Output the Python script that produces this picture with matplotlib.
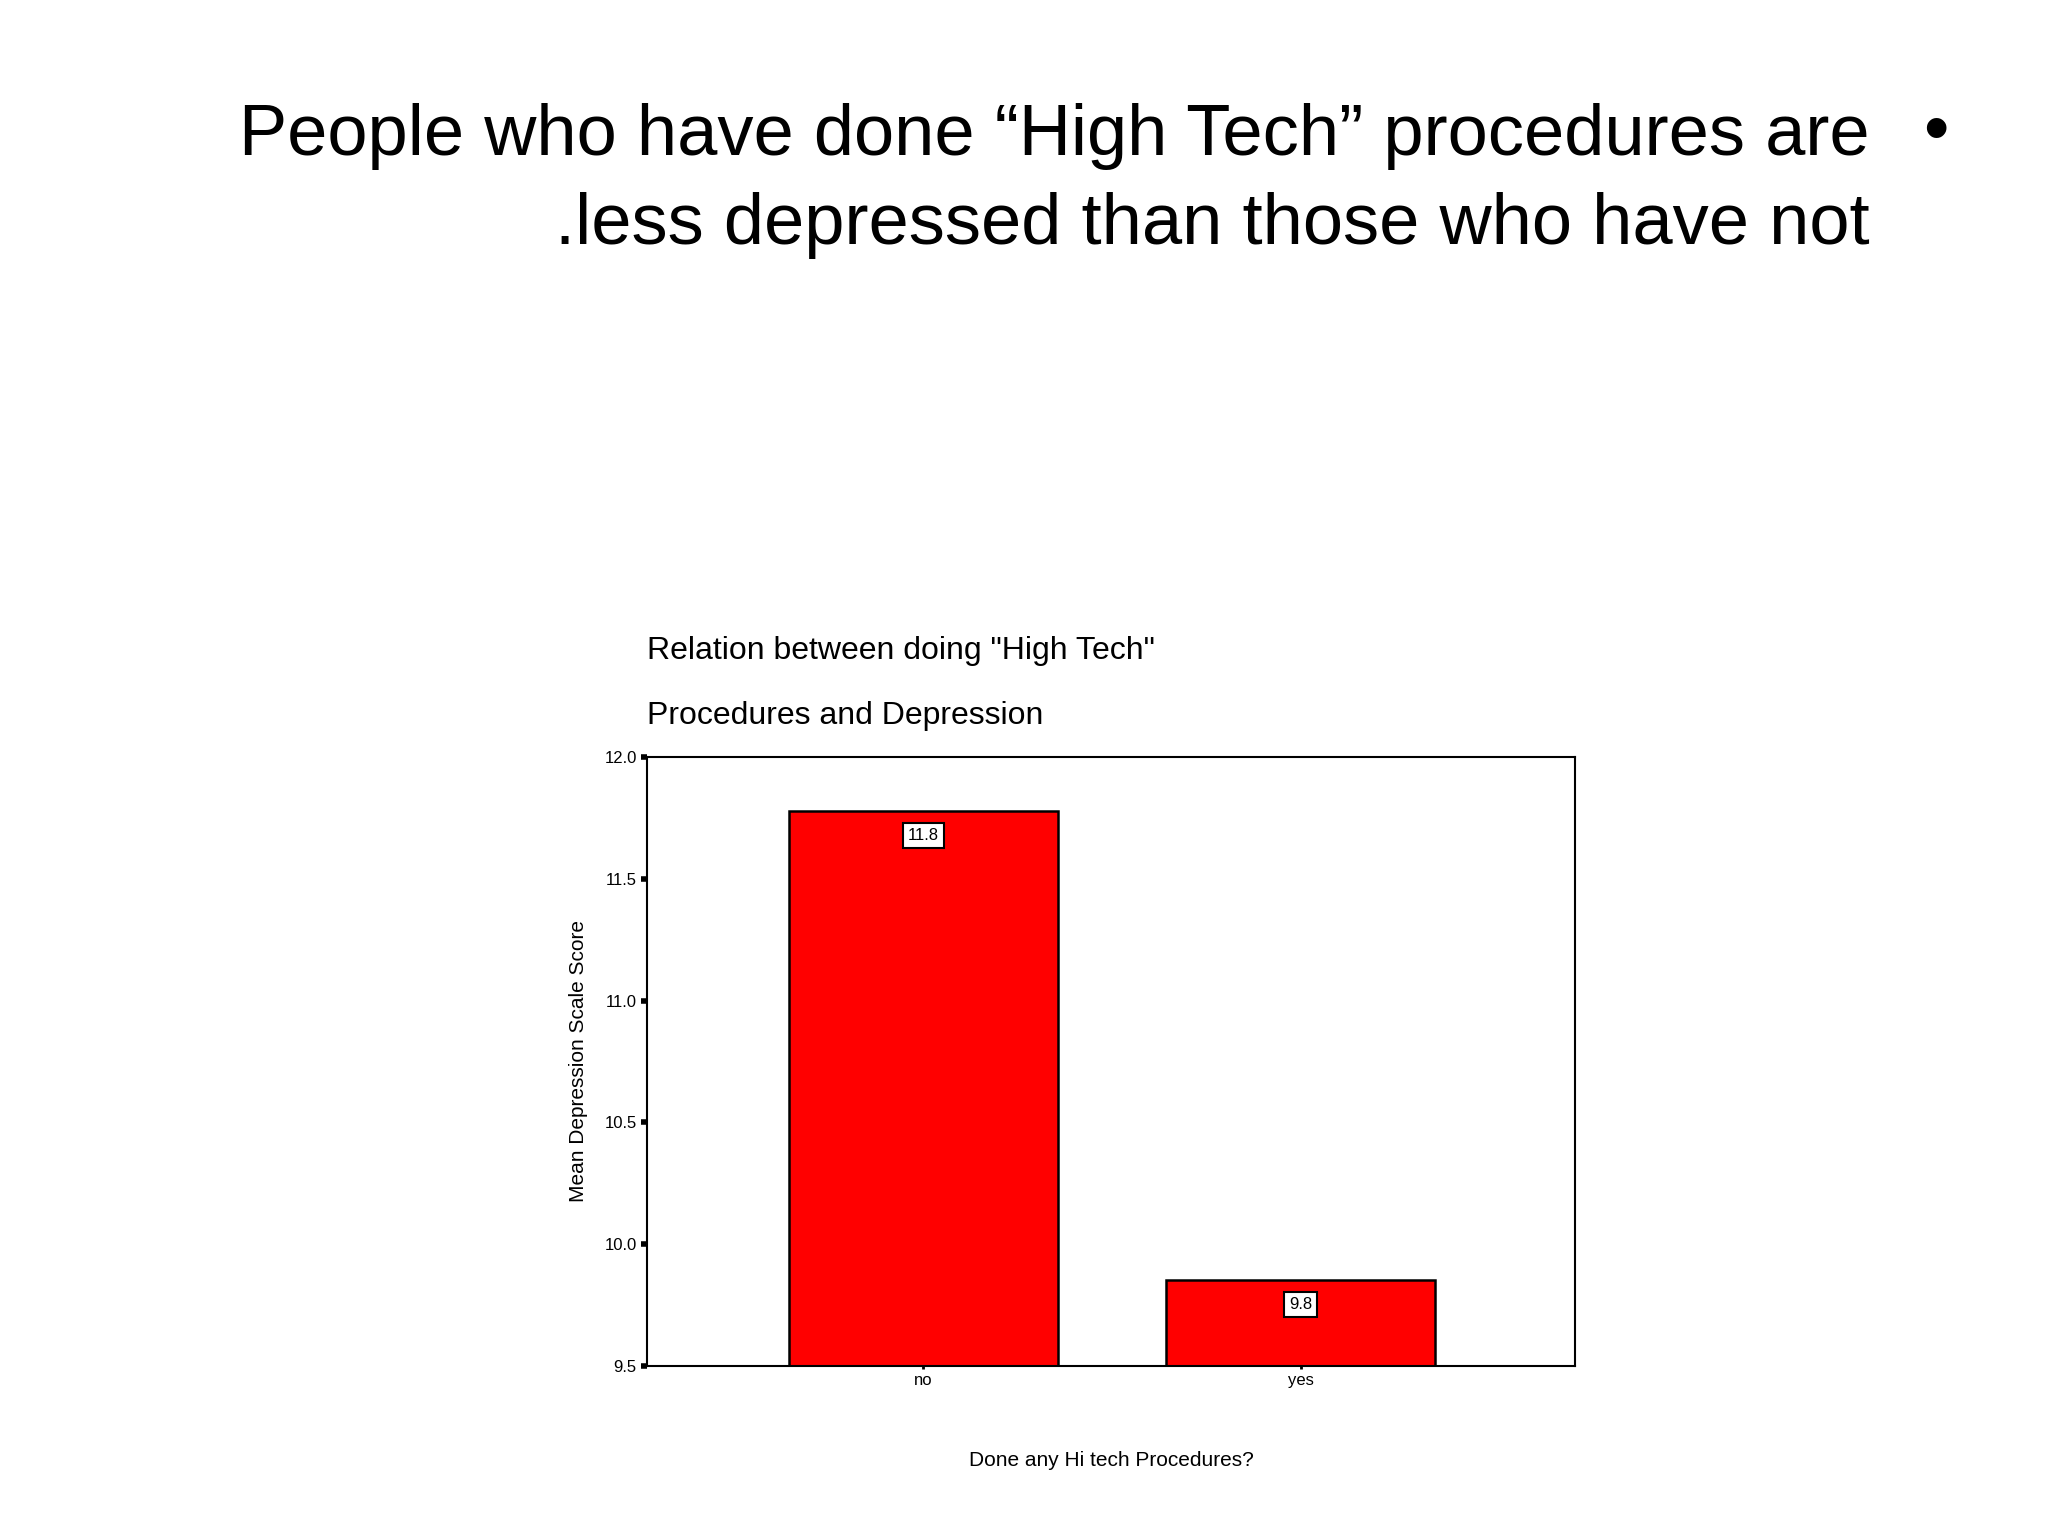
import matplotlib
matplotlib.use("Agg")
import matplotlib.pyplot as plt

categories = ["no", "yes"]
values = [11.78, 9.85]
labels = ["11.8", "9.8"]
yticks = [9.5, 10.0, 10.5, 11.0, 11.5, 12.0]

plt.rcParams['font.family'] = ['Liberation Sans', 'DejaVu Sans']
fig = plt.figure(figsize=(20.48, 15.36), dpi=100)
fig.text(0.913, 0.911, "People who have done “High Tech” procedures are", ha='right', va='center', fontsize=52)
fig.text(0.913, 0.853, ".less depressed than those who have not", ha='right', va='center', fontsize=52)
fig.text(0.945, 0.913, "•", ha='center', va='center', fontsize=52)

ax = fig.add_axes([0.316, 0.111, 0.453, 0.396])
x = list(range(len(categories)))
ax.bar(x, [v - 9.5 for v in values], bottom=9.5, width=0.713, color='#ff0000', edgecolor='black', linewidth=1.8)
for xi, v, lab in zip(x, values, labels):
    ax.text(xi, v - 0.1, lab, ha='center', va='center', fontsize=12,
            bbox=dict(boxstyle='square,pad=0.3', fc='white', ec='black', lw=1.5))
ax.set_xlim(-0.731, 1.727)
ax.set_ylim(9.5, 12.0)
ax.set_yticks(yticks)
ax.set_yticklabels([f"{t:.1f}" for t in yticks], fontsize=12)
ax.set_xticks(x)
ax.set_xticklabels(categories, fontsize=12)
ax.tick_params(axis='y', direction='out', length=4, width=4)
ax.tick_params(axis='x', direction='out', length=2, width=2)
for s in ax.spines.values():
    s.set_linewidth(1.5)
ax.set_ylabel("Mean Depression Scale Score", fontsize=15, labelpad=12)
ax.set_xlabel("Done any Hi tech Procedures?", fontsize=15, labelpad=45)
fig.text(0.316, 0.576, 'Relation between doing "High Tech"', fontsize=23, va='center')
fig.text(0.316, 0.534, 'Procedures and Depression', fontsize=23, va='center')
fig.savefig("out.png", dpi=100)
